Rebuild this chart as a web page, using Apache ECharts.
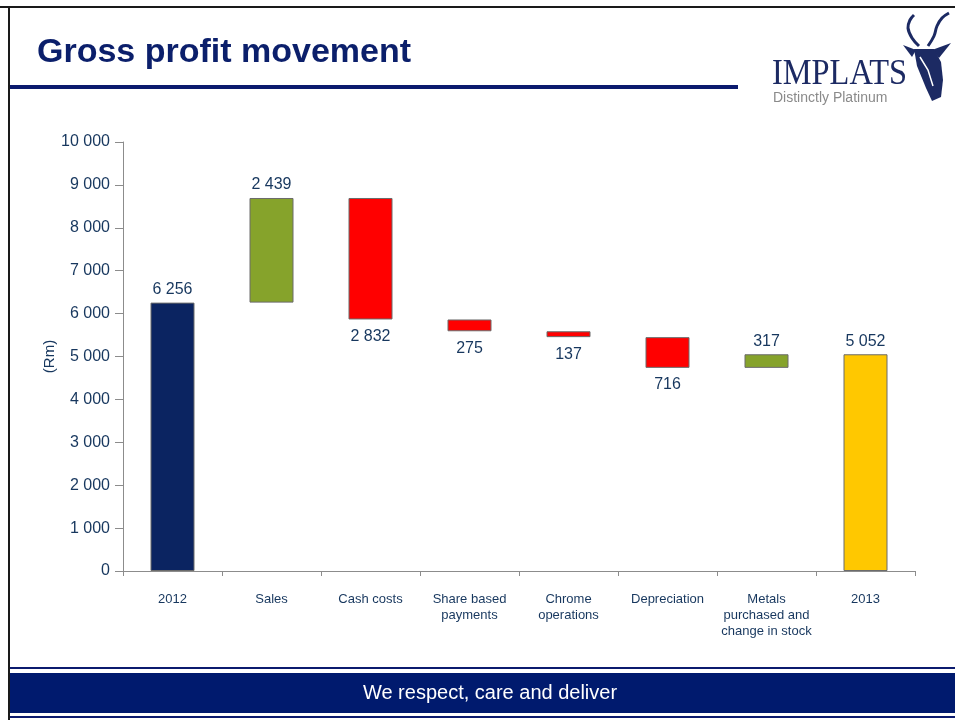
<!DOCTYPE html>
<html lang="en">

<head>
  <meta charset="UTF-8">
  <title>Gross profit movement</title>
  <style>
    html, body { margin: 0; padding: 0; background: #fff; }
    #main { width: 955px; height: 720px; }
  </style>
</head>

<body>
  <div id="main"></div>
</body>
<script src="https://cdn.jsdelivr.net/npm/echarts@6/dist/echarts.min.js"></script>
<script>
  // categories and movements (Rm)
  var categories = ['2012', 'Sales', 'Cash costs', 'Share based\npayments', 'Chrome\noperations',
    'Depreciation', 'Metals\npurchased and\nchange in stock', '2013'];
  var amounts = [6256, 2439, -2832, -275, -137, -716, 317, 5052];
  // 'total' bars start at zero, 'up'/'down' float on the running total
  var kinds = ['total', 'up', 'down', 'down', 'down', 'down', 'up', 'total'];
  var yTicks = [0, 1000, 2000, 3000, 4000, 5000, 6000, 7000, 8000, 9000, 10000];

  var colors = { total0: '#0b2461', up: '#86a32b', down: '#ff0000', total1: '#ffc800' };
  var labelColor = '#17375e';

  function fmt(v) {
    return String(Math.abs(v)).replace(/\B(?=(\d{3})+(?!\d))/g, ' ');
  }

  // running total -> invisible base + visible bar
  var baseData = [];
  var barData = [];
  var running = 0;
  for (var i = 0; i < amounts.length; i++) {
    var a = amounts[i];
    var col;
    if (kinds[i] === 'total') {
      baseData.push(0);
      running = a;
      col = i === 0 ? colors.total0 : colors.total1;
    } else if (a >= 0) {
      baseData.push(running);
      running += a;
      col = colors.up;
    } else {
      running += a;
      baseData.push(running);
      col = colors.down;
    }
    barData.push({
      value: Math.abs(a),
      itemStyle: { color: col },
      label: a >= 0 ? { position: 'top', distance: 5 } : { position: 'bottom', distance: 9 }
    });
  }

  var chart = echarts.init(document.getElementById('main'));

  var option = {
    animation: false,
    backgroundColor: '#fff',
    grid: { left: 123, right: 40, top: 142, bottom: 149 },
    xAxis: {
      type: 'category',
      data: categories,
      axisLine: { lineStyle: { color: '#8c8c8c', width: 1 } },
      axisTick: { show: true, length: 5, lineStyle: { color: '#8c8c8c' } },
      axisLabel: {
        color: labelColor,
        fontFamily: 'Liberation Sans',
        fontSize: 13,
        lineHeight: 16,
        margin: 20,
        interval: 0
      }
    },
    yAxis: {
      type: 'value',
      min: 0,
      max: 10000,
      interval: 1000,
      name: '(Rm)',
      nameLocation: 'middle',
      nameGap: 66,
      nameMoveOverlap: false,
      nameRotate: 90,
      nameTextStyle: { color: labelColor, fontFamily: 'Liberation Sans', fontSize: 15 },
      axisLine: { show: true, lineStyle: { color: '#8c8c8c' } },
      axisTick: { show: true, length: 8, lineStyle: { color: '#8c8c8c' } },
      splitLine: { show: false },
      axisLabel: {
        color: labelColor,
        fontFamily: 'Liberation Sans',
        fontSize: 16,
        margin: 13,
        formatter: function (v) { return fmt(v); }
      }
    },
    series: [
      {
        type: 'bar',
        stack: 'w',
        data: baseData,
        barWidth: 44,
        itemStyle: { color: 'transparent' },
        silent: true
      },
      {
        type: 'bar',
        stack: 'w',
        data: barData,
        barWidth: 44,
        itemStyle: { borderColor: '#6b6b6b', borderWidth: 1 },
        label: {
          show: true,
          color: labelColor,
          fontFamily: 'Liberation Sans',
          fontSize: 16,
          formatter: function (p) { return fmt(amounts[p.dataIndex]); }
        }
      }
    ],
    graphic: [
      // slide frame
      { type: 'rect', shape: { x: 0, y: 6, width: 955, height: 2 }, style: { fill: '#1a1a1a' } },
      { type: 'rect', shape: { x: 8, y: 6, width: 2, height: 714 }, style: { fill: '#1a1a1a' } },
      // title + underline
      {
        type: 'text', left: 37, top: 36,
        style: { text: 'Gross profit movement', fill: '#0b1f6b', font: 'bold 34px "Liberation Sans"' }
      },
      { type: 'rect', shape: { x: 10, y: 85, width: 728, height: 4 }, style: { fill: '#0b1a6e' } },
      // logo
      {
        type: 'text', x: 772, y: 57, scaleX: 0.9,
        style: { text: 'IMPLATS', fill: '#1c2a63', font: '36px "Liberation Serif"' }
      },
      {
        type: 'text', x: 773, y: 91,
        style: { text: 'Distinctly Platinum', fill: '#8a8a8a', font: '14px "Liberation Sans"' }
      },
      {
        type: 'polyline', shape: { points: [[919, 46], [912, 38], [908, 28], [910, 20], [914, 15]], smooth: 0.4 },
        style: { stroke: '#1c2a63', lineWidth: 3, fill: null }
      },
      {
        type: 'polyline', shape: { points: [[928, 46], [934, 36], [937, 26], [942, 18], [949, 13]], smooth: 0.4 },
        style: { stroke: '#1c2a63', lineWidth: 3, fill: null }
      },
      { type: 'polygon', shape: { points: [[916, 50], [903, 45], [912, 57]] }, style: { fill: '#1c2a63' } },
      { type: 'polygon', shape: { points: [[932, 50], [951, 43], [939, 58]] }, style: { fill: '#1c2a63' } },
      {
        type: 'polygon',
        shape: { points: [[914, 49], [934, 49], [941, 62], [943, 80], [941, 97], [932, 101], [926, 88], [917, 66]] },
        style: { fill: '#1c2a63' }
      },
      {
        type: 'polyline', shape: { points: [[920, 57], [928, 70], [933, 86]] },
        style: { stroke: '#fff', lineWidth: 1.5, fill: null }
      },
      // footer
      { type: 'rect', shape: { x: 10, y: 667, width: 945, height: 2 }, style: { fill: '#0b1a6e' } },
      { type: 'rect', shape: { x: 10, y: 673, width: 945, height: 40 }, style: { fill: '#001a6e' } },
      { type: 'rect', shape: { x: 10, y: 716, width: 945, height: 2 }, style: { fill: '#0b1a6e' } },
      {
        type: 'text', x: 490, y: 693,
        style: {
          text: 'We respect, care and deliver', fill: '#fff', font: '20px "Liberation Sans"',
          textAlign: 'center', textVerticalAlign: 'middle'
        }
      }
    ]
  };

  chart.setOption(option);
</script>

</html>
